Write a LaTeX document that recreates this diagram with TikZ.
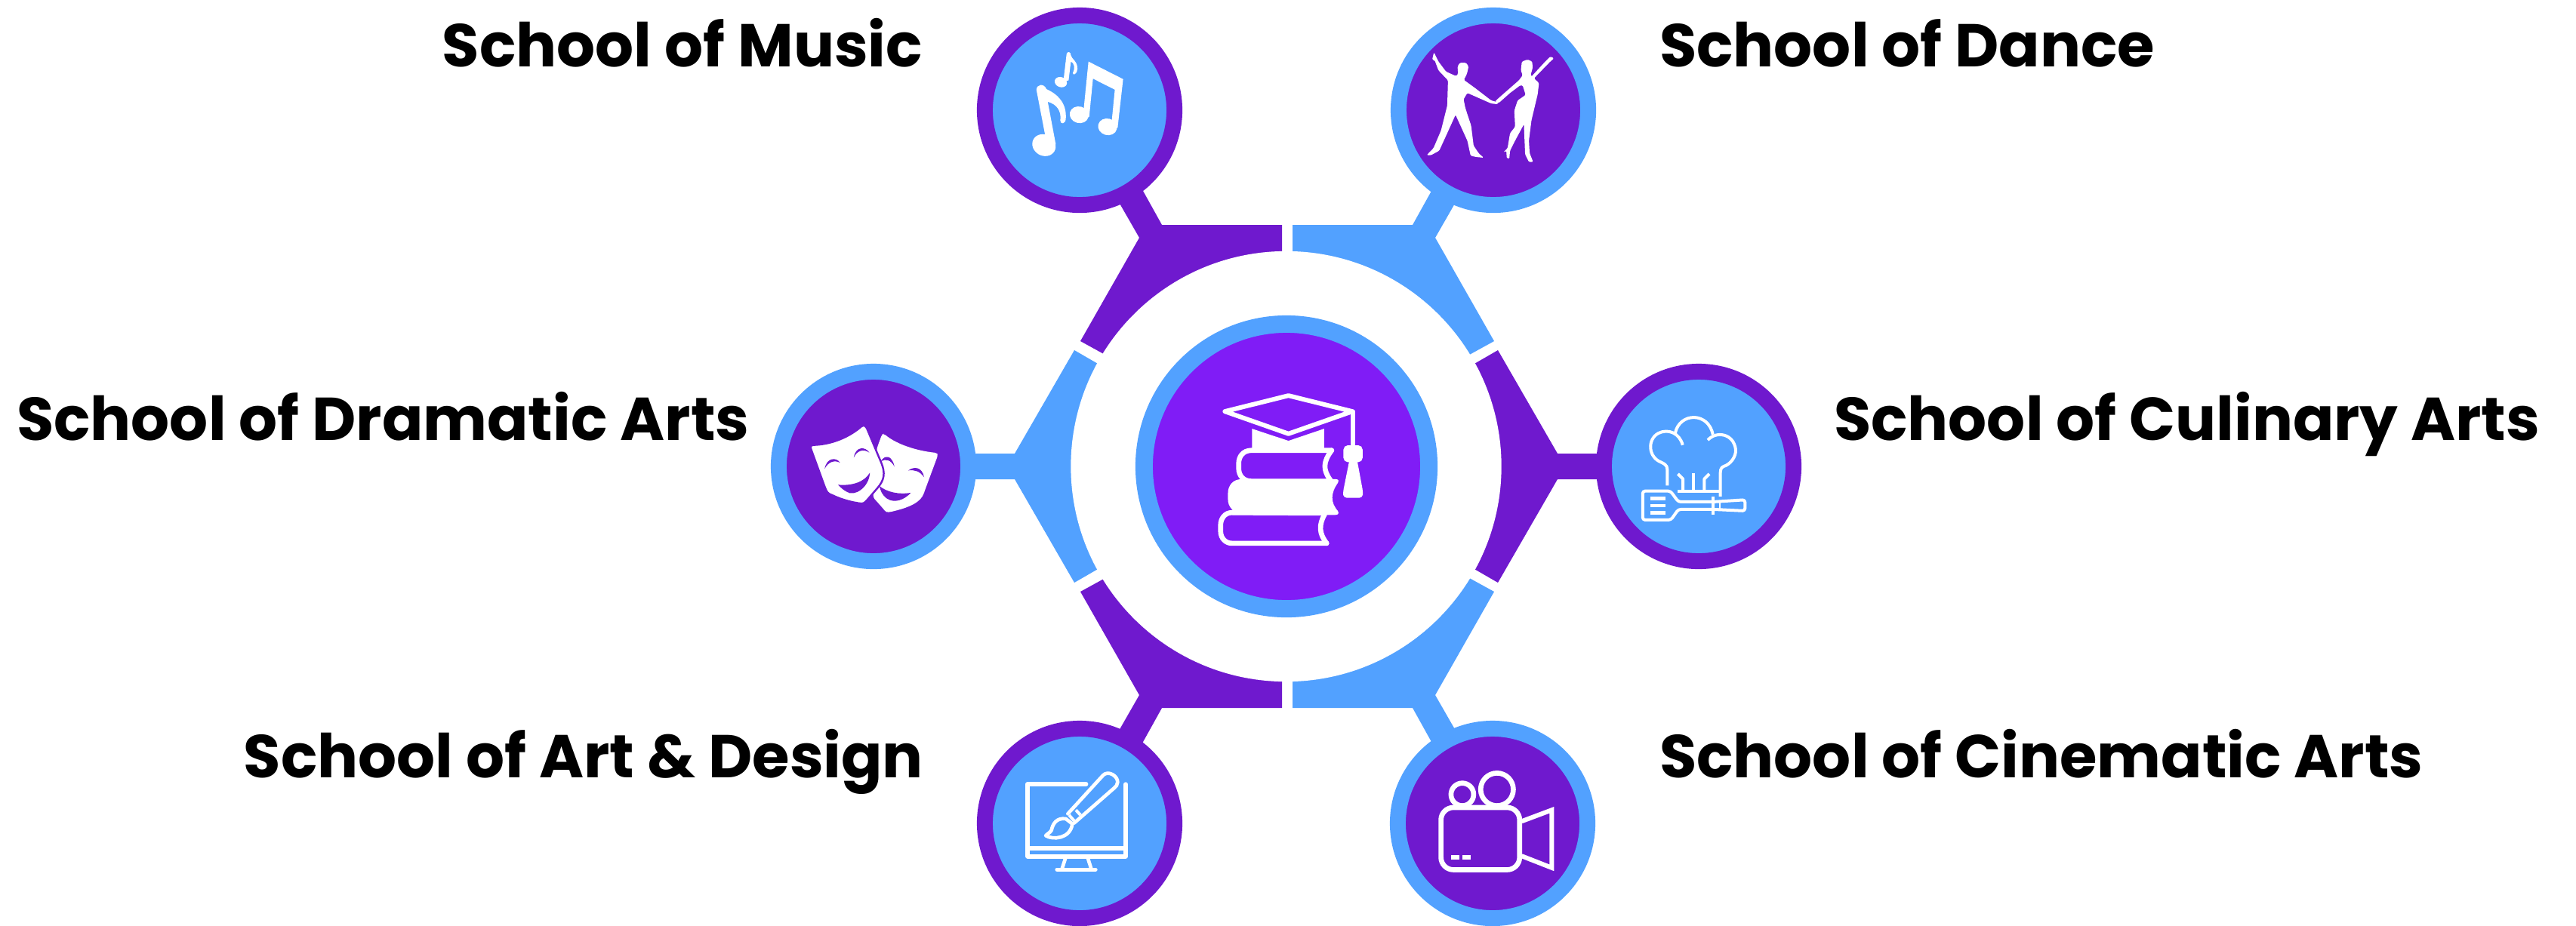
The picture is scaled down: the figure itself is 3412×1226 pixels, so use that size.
\documentclass[tikz,border=0pt]{standalone}
\usepackage{fontspec}
\setmainfont{Poppins}[BoldFont={* Bold}]
\definecolor{dpurple}{HTML}{6F19CE}
\definecolor{bpurple}{HTML}{801CF6}
\definecolor{lblue}{HTML}{52A1FF}
\tikzset{
 segP/.style={fill=dpurple,draw=none},
 segB/.style={fill=lblue,draw=none},
 ringP/.style={circle,inner sep=0pt,outer sep=0pt,minimum size=2.51cm,line width=0.21cm,draw=dpurple,fill=lblue},
 ringB/.style={circle,inner sep=0pt,outer sep=0pt,minimum size=2.51cm,line width=0.21cm,draw=lblue,fill=dpurple},
 hub/.style={circle,inner sep=0pt,outer sep=0pt,minimum size=3.77cm,line width=0.23cm,draw=lblue,fill=bpurple},
 lab/.style={inner sep=0pt,outer sep=0pt,font=\fontsize{22.8pt}{26pt}\selectfont\bfseries,text=black},
 icon/.style={x=0.0033333cm,y=-0.0033333cm},
 ln/.style={draw=white,line cap=round,line join=round,line width=#1*0.0948pt},
}
\begin{document}
\begin{tikzpicture}[x=0.01cm,y=-0.01cm]
\useasboundingbox (0,0) rectangle (3412,1226);
% segments
\fill[segP] (1698,298)--(1539,298)--(1489,208)--(1458,226)--(1509,315)--(1431,452)--(1500,490)--(1698,500)--cycle;
\fill[segB] (1712,298)--(1871,298)--(1921,208)--(1952,226)--(1901,315)--(1979,452)--(1910,490)--(1712,500)--cycle;
\fill[segP] (1698,938)--(1539,938)--(1489,1028)--(1458,1010)--(1509,921)--(1431,784)--(1500,746)--(1698,736)--cycle;
\fill[segB] (1712,938)--(1871,938)--(1921,1028)--(1952,1010)--(1901,921)--(1979,784)--(1910,746)--(1712,736)--cycle;
\fill[segP] (1984,464)--(2063,601)--(2160,601)--(2160,635)--(2063,635)--(1984,772)--(1894,720)--(1894,516)--cycle;
\fill[segB] (1423,464)--(1344,601)--(1250,601)--(1250,635)--(1344,635)--(1423,772)--(1513,720)--(1513,516)--cycle;
\fill[white] (1703.5,618) circle[radius=2.85cm];
% circles
\node[hub] (centre) at (1704,618) {};
\node[ringP] (music) at (1430,146) {};
\node[ringB] (dance) at (1978,146) {};
\node[ringB] (drama) at (1157,618) {};
\node[ringP] (culinary) at (2250,618) {};
\node[ringP] (art) at (1430,1091) {};
\node[ringB] (cinema) at (1977,1091) {};
% labels
\node[lab,anchor=base east] (lmusic) at (1222,88) {School of Music};
\node[lab,anchor=base west] (ldance) at (2198,88) {School of Dance};
\node[lab,anchor=base west] (ldrama) at (22,583) {School of Dramatic Arts};
\node[lab,anchor=base west] (lculinary) at (2429,583) {School of Culinary Arts};
\node[lab,anchor=base east] (lart) at (1223,1030) {School of Art \& Design};
\node[lab,anchor=base west] (lcinema) at (2198,1030) {School of Cinematic Arts};
% centre icon
\begin{scope}[icon,shift={(4350,1200)}]
\draw[ln=18] (778,375)--(1032,438)--(778,527)--(525,438)--cycle;
\draw[ln=16] (1035,438)--(1035,590);
\fill[white,rounded corners=1.6pt] (997,573) rectangle (1073,640);
\fill[white,rounded corners=1.2pt] (1022,625)--(1050,625)--(1075,760)--(1073,782)--(997,782)--(995,760)--cycle;
\fill[white] (633,507)--(778,555)--(920,507)--(920,592)--(633,592)--cycle;
\draw[ln=20] (950,593)--(632,593) .. controls (595,593) and (580,620) .. (580,645)--(580,665) .. controls (580,695) and (600,716) .. (632,716)--(950,716);
\draw[ln=20] (950,593) .. controls (915,640) and (915,670) .. (945,712);
\fill[white] (968,708) .. controls (980,708) and (978,718) .. (975,722) .. controls (945,765) and (945,800) .. (975,835) .. controls (980,845) and (975,850) .. (965,850)--(555,850)--(555,830) .. controls (540,815) and (537,800) .. (537,785)--(537,765) .. controls (537,730) and (560,708) .. (590,708)--cycle;
\draw[ln=20] (922,843)--(552,841) .. controls (525,841) and (508,865) .. (508,890)--(508,915) .. controls (508,945) and (530,963) .. (552,963)--(930,963);
\draw[ln=20] (922,848) .. controls (898,890) and (900,925) .. (930,963);
\end{scope}
% music
\begin{scope}[icon,shift={(3870,0)}]
\fill[white,rotate around={-30:(285,578)}] (285,578) ellipse[x radius=48,y radius=42];
\fill[white] (255,358) .. controls (255,335) and (285,330) .. (295,355) .. controls (340,375) and (375,410) .. (372,470) .. controls (372,495) and (350,497) .. (350,480) .. controls (355,440) and (335,415) .. (300,405)--(332,575)--(290,540)--cycle;
\fill[white,rotate around={-15:(425,457)}] (425,457) ellipse[x radius=38,y radius=33];
\fill[white,rotate around={-15:(538,505)}] (538,505) ellipse[x radius=38,y radius=33];
\fill[white] (462,245)--(600,315)--(578,510)--(552,510)--(567,357)--(480,313)--(465,465)--(440,465)--cycle;
\fill[white,rotate around={-20:(352,327)}] (352,327) ellipse[x radius=25,y radius=20];
\fill[white] (375,215) .. controls (378,203) and (392,205) .. (392,220) .. controls (395,235) and (420,245) .. (418,275) .. controls (415,300) and (398,300) .. (400,290) .. controls (410,270) and (405,250) .. (392,245)--(383,320)--(362,325)--cycle;
\end{scope}
% dance
\begin{scope}[icon,shift={(5520,0)}]
\fill[white,rounded corners=0.4pt] (180,238)--(187,208)--(205,245)--(235,285)--(275,303)--(283,295)--(281,265)--(290,250)--(315,250)--(325,265)--(318,295)--(306,318)--(350,350)--(415,400)--(445,408)--(440,415)--(415,412)--(320,370)--(305,395)--(312,430)--(335,500)--(345,580)--(365,610)--(385,628)--(355,625)--(333,620)--(320,560)--(273,457)--(240,530)--(208,600)--(175,618)--(158,618)--(185,590)--(215,520)--(240,420)--(243,320)--(205,280)--(190,240)--cycle;
\fill[white,rounded corners=0.4pt] (430,405)--(445,390)--(525,320)--(540,300)--(533,280)--(537,245)--(560,237)--(578,245)--(580,270)--(572,298)--(575,305)--(630,245)--(650,225)--(665,232)--(650,245)--(585,312)--(605,330)--(600,375)--(575,480)--(565,560)--(568,610)--(582,645)--(565,645)--(550,615)--(545,495)--(510,560)--(490,600)--(487,632)--(477,630)--(475,600)--(463,607)--(480,590)--(490,530)--(510,505)--(507,440)--(520,400)--(552,378)--(540,340)--(530,340)--(490,370)--(445,410)--cycle;
\end{scope}
% masks
\begin{scope}[icon,shift={(3000,1380)}]
\fill[white,rounded corners=0.8pt] (518,347) .. controls (570,390) and (650,415) .. (728,423)--(733,432)--(680,575) .. controls (665,620) and (620,640) .. (545,658) .. controls (530,660) and (525,658) .. (515,645)--(475,600)--(490,405)--(510,350)--cycle;
\fill[dpurple] (505,458) .. controls (520,430) and (550,430) .. (560,478) .. controls (545,450) and (525,445) .. (505,458)--cycle;
\fill[dpurple] (615,493) .. controls (640,475) and (670,480) .. (678,520) .. controls (660,495) and (640,490) .. (615,493)--cycle;
\fill[dpurple] (500,555) .. controls (530,580) and (580,590) .. (625,582) .. controls (600,610) and (560,625) .. (530,605) .. controls (510,590) and (505,575) .. (500,555)--cycle;
\filldraw[fill=white,draw=dpurple,line width=0.7pt,rounded corners=0.8pt] (228,392) .. controls (310,390) and (380,360) .. (435,312)--(447,318)--(500,445) .. controls (520,490) and (525,520) .. (495,560)--(445,618) .. controls (435,625) and (425,625) .. (410,622) .. controls (380,617) and (340,605) .. (310,590) .. controls (295,585) and (290,575) .. (285,565)--(225,400)--cycle;
\fill[dpurple] (282,487) .. controls (290,440) and (330,440) .. (343,462) .. controls (320,450) and (295,460) .. (282,487)--cycle;
\fill[dpurple] (398,442) .. controls (405,395) and (445,398) .. (460,422) .. controls (435,405) and (410,415) .. (398,442)--cycle;
\fill[dpurple] (335,550) .. controls (390,555) and (440,540) .. (462,502) .. controls (460,560) and (400,600) .. (370,578) .. controls (355,570) and (345,560) .. (335,550)--cycle;
\end{scope}
% chef
\begin{scope}[icon,shift={(6300,1380)}]
\draw[ln=12,line cap=butt] (336,553)--(336,490) .. controls (336,470) and (320,465) .. (310,460) .. controls (260,440) and (255,370) .. (300,345) .. controls (340,325) and (385,345) .. (397,392);
\draw[ln=12,line cap=butt] (367,345) .. controls (385,260) and (500,260) .. (517,350);
\draw[ln=12,line cap=butt] (497,372) .. controls (530,335) and (600,345) .. (608,410) .. controls (610,440) and (585,470) .. (560,477) .. controls (547,482) and (547,495) .. (547,510)--(547,597);
\draw[ln=12,line cap=butt] (378,577)--(547,577);
\draw[ln=12,line cap=butt] (440,505)--(440,577);
\draw[ln=12,line cap=butt] (378,507)--(398,527)--(398,577);
\draw[ln=12,line cap=butt] (503,507)--(483,527)--(483,577);
\draw[ln=12,rounded corners=0.9pt] (238,575)--(348,575)--(380,618)--(520,618)--(645,610)--(645,654)--(520,648)--(380,648)--(350,690)--(238,690)--cycle;
\draw[ln=14,line cap=butt] (267,605)--(330,605);
\draw[ln=14,line cap=butt] (267,633)--(330,633);
\draw[ln=14,line cap=butt] (267,662)--(330,662);
\draw[ln=14,line cap=butt] (518,597)--(518,668);
\draw[ln=8,line cap=butt] (545,620)--(545,645);
\end{scope}
% monitor
\begin{scope}[icon,shift={(3810,2790)}]
\draw[ln=16] (513,332)--(280,332)--(280,620)--(670,620)--(670,332);
\draw[ln=16] (280,587)--(670,587);
\draw[ln=14,line cap=butt] (430,628)--(416,672);
\draw[ln=14,line cap=butt] (520,628)--(534,672);
\draw[ln=16] (397,672)--(550,672);
\draw[ln=14] (440,450)--(580,297) .. controls (600,275) and (640,300) .. (638,325) .. controls (637,335) and (632,342) .. (625,347)--(465,487);
\draw[ln=12,line cap=butt] (472,435)--(490,455);
\draw[ln=12,line cap=butt] (445,455)--(465,478);
\draw[ln=14] (432,470) .. controls (395,465) and (380,490) .. (375,515) .. controls (370,525) and (358,530) .. (352,537) .. controls (380,555) and (450,550) .. (458,490)--cycle;
\end{scope}
% camera
\begin{scope}[icon,shift={(5490,2790)}]
\draw[ln=20] (330,373) circle[radius=45];
\draw[ln=20] (468,353) circle[radius=65];
\filldraw[fill=dpurple,draw=white,line width=1.9pt,rounded corners=4.7pt] (245,425) rectangle (558,673);
\draw[ln=18,line cap=butt,line join=miter] (566,480)--(686,435)--(686,665)--(566,618);
\fill[white] (285,613) rectangle (318,633);
\fill[white] (330,613) rectangle (363,633);
\end{scope}
\end{tikzpicture}
\end{document}
